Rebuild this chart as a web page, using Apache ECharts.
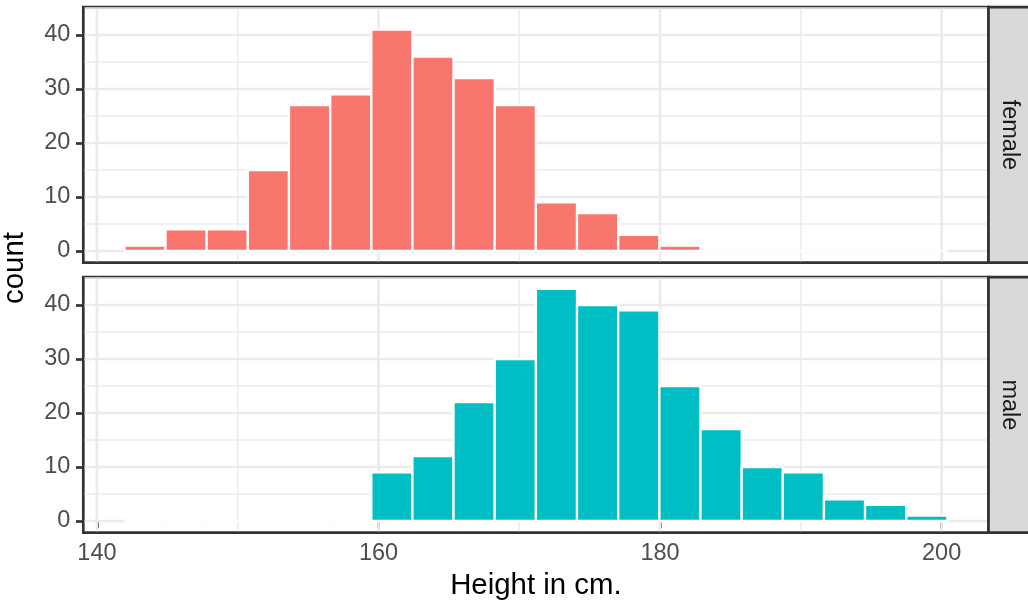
<!DOCTYPE html>
<html><head><meta charset="utf-8">
<script src="https://cdn.jsdelivr.net/npm/echarts@6/dist/echarts.min.js"></script>
<style>html,body{margin:0;padding:0;background:#fff}#c{width:1028px;height:605px}</style>
</head><body><div id="c"></div>
<script>
// ---- data ----
const binEdges = [141.95,144.87,147.80,150.72,153.64,156.57,159.49,162.41,165.33,168.26,171.18,
                  174.10,177.03,179.95,182.87,185.80,188.72,191.64,194.56,197.49,200.41];
const femaleCounts = [1,4,4,15,27,29,41,36,32,27,9,7,3,1,0,0,0,0,0,0];
const maleCounts   = [0,0,0,0,0,0,9,12,22,30,43,40,39,25,17,10,9,4,3,1];
const panelNames = ['female','male'];
const panelColors = ['#F8766D','#00BFC4'];
const xTicks = [140,160,180,200];
const xMinor = [150,170,190];
const yTicks = [0,10,20,30,40];
const yMinor = [5,15,25,35,45];
const xLimits = [139.03, 203.33];
const yLimits = [-2.15, 45.15];
const xTitle = 'Height in cm.';
const yTitle = 'count';

// ---- layout ----
const FONT = '"Liberation Sans", Arial, Helvetica, sans-serif';
const TICK_FS = 23.5, TITLE_FS = 29.4;
const gridLeft = 83.3, gridWidth = 905.2, gridHeight = 255.4;
const gridTops = [7.2, 277.2];
const BORDER = 2.7;
const countsByPanel = [femaleCounts, maleCounts];

const chart = echarts.init(document.getElementById('c'), null, {renderer:'canvas'});

const grids = gridTops.map(t => ({left: gridLeft, top: t, width: gridWidth, height: gridHeight,
  show: true, backgroundColor: '#fff', borderColor: '#333333', borderWidth: BORDER, containLabel: false}));

const xAxes = gridTops.map((t, i) => ({
  type: 'value', gridIndex: i, min: xLimits[0], max: xLimits[1],
  axisLine: {show: false}, splitLine: {show: false},
  axisTick: {show: i === 1, customValues: xTicks, length: 7.3, lineStyle: {color: '#333333', width: BORDER}},
  axisLabel: {show: i === 1, customValues: xTicks, color: '#4D4D4D', fontSize: TICK_FS, fontFamily: FONT, margin: 9}
}));
const yAxes = gridTops.map((t, i) => ({
  type: 'value', gridIndex: i, min: yLimits[0], max: yLimits[1],
  axisLine: {show: false}, splitLine: {show: false},
  axisTick: {show: true, customValues: yTicks, length: 7.3, lineStyle: {color: '#333333', width: BORDER}},
  axisLabel: {show: true, customValues: yTicks, color: '#4D4D4D', fontSize: TICK_FS, fontFamily: FONT, margin: 13}
}));

function gridSeries(idx, values, horizontal, width) {
  return {
    type: 'custom', xAxisIndex: idx, yAxisIndex: idx, z: 1, silent: true,
    data: values.map(v => horizontal ? [xLimits[0], v] : [v, yLimits[0]]),
    renderItem: function (params, api) {
      const cs = params.coordSys;
      const ins = BORDER / 2;
      if (horizontal) {
        const y = api.coord([api.value(0), api.value(1)])[1];
        return {type: 'line', shape: {x1: cs.x + ins, y1: y, x2: cs.x + cs.width - ins, y2: y},
                style: {stroke: '#EBEBEB', lineWidth: width}};
      } else {
        const x = api.coord([api.value(0), api.value(1)])[0];
        return {type: 'line', shape: {x1: x, y1: cs.y + ins, x2: x, y2: cs.y + cs.height - ins},
                style: {stroke: '#EBEBEB', lineWidth: width}};
      }
    }
  };
}

const series = [];
panelNames.forEach((name, i) => {
  series.push(gridSeries(i, yMinor, true, 1.35));
  series.push(gridSeries(i, xMinor, false, 1.35));
  series.push(gridSeries(i, yTicks, true, 2.7));
  series.push(gridSeries(i, xTicks, false, 2.7));
  series.push({
    type: 'custom', name: name, xAxisIndex: i, yAxisIndex: i, z: 3,
    encode: {x: [0, 1], y: 2},
    data: countsByPanel[i].map((c, k) => [binEdges[k], binEdges[k + 1], c]),
    renderItem: function (params, api) {
      const p0 = api.coord([api.value(0), api.value(2)]);
      const p1 = api.coord([api.value(1), 0]);
      return {type: 'rect', shape: {x: p0[0], y: p0[1], width: p1[0] - p0[0], height: p1[1] - p0[1]},
              style: {fill: panelColors[i], stroke: '#FFFFFF', lineWidth: 2.3}};
    }
  });
});

const graphics = [];
gridTops.forEach((t, i) => {
  graphics.push({type: 'rect', z: 10, shape: {x: gridLeft + gridWidth, y: t, width: 60, height: gridHeight},
                 style: {fill: '#D9D9D9', stroke: '#333333', lineWidth: BORDER}});
  graphics.push({type: 'text', z: 11, x: 1009, y: t + gridHeight / 2, rotation: -Math.PI / 2,
                 style: {text: panelNames[i], fill: '#1A1A1A', font: TICK_FS + 'px ' + FONT, align: 'center', verticalAlign: 'middle'}});
});
graphics.push({type: 'text', z: 11, x: gridLeft + gridWidth / 2, y: 586,
               style: {text: xTitle, fill: '#000', font: TITLE_FS + 'px ' + FONT, align: 'center', verticalAlign: 'middle'}});
graphics.push({type: 'text', z: 11, x: 15, y: 268, rotation: Math.PI / 2,
               style: {text: yTitle, fill: '#000', font: TITLE_FS + 'px ' + FONT, align: 'center', verticalAlign: 'middle'}});

chart.setOption({
  animation: false,
  backgroundColor: '#fff',
  grid: grids, xAxis: xAxes, yAxis: yAxes, series: series, graphic: graphics
});
</script></body></html>
